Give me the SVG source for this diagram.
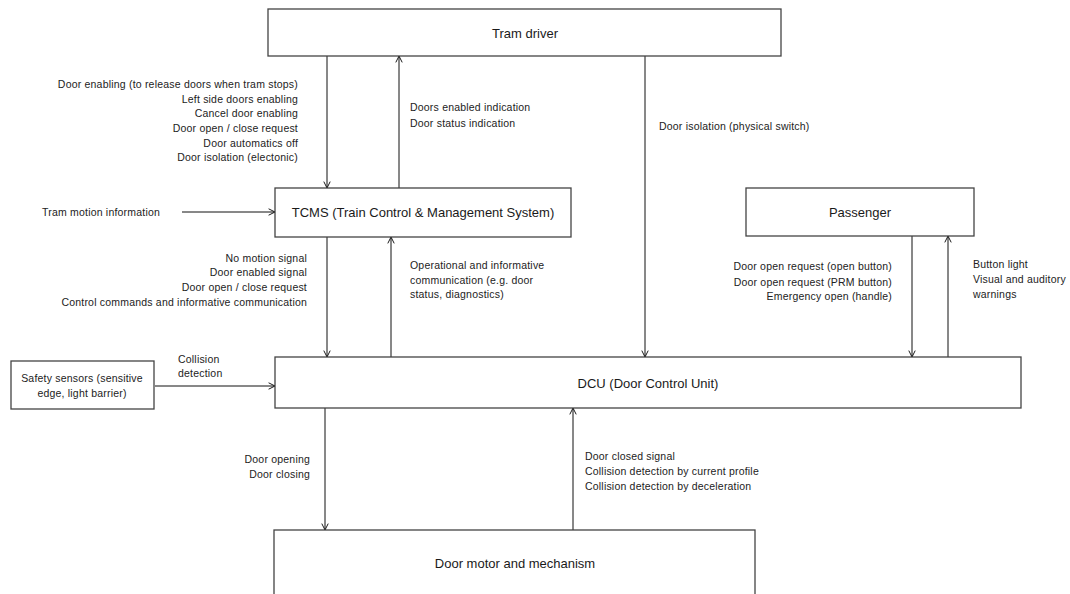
<svg xmlns="http://www.w3.org/2000/svg" width="1070" height="594" viewBox="0 0 1070 594">
<style>
.box{fill:#fff;stroke:#444;stroke-width:1.3}
.lbl{font-family:"Liberation Sans",Arial,sans-serif;font-size:13px;fill:#1a1a1a;text-anchor:middle;dominant-baseline:central}
.t{font-family:"Liberation Sans",Arial,sans-serif;font-size:10.5px;letter-spacing:0.2px;fill:#222;dominant-baseline:central}
.r{text-anchor:end}
.c{text-anchor:middle}
.ln{stroke:#111;stroke-width:1;fill:none;marker-end:url(#ah)}
</style>
<defs>
<marker id="ah" viewBox="0 0 10 10" refX="10" refY="5" markerWidth="8" markerHeight="8" markerUnits="userSpaceOnUse" orient="auto">
<polyline points="2,1 10,5 2,9" fill="none" stroke="#111" stroke-width="1.2"/>
</marker>
</defs>
<rect width="1070" height="594" fill="#fff"/>
<g id="connectors">
<line class="ln" x1="327" y1="56" x2="327" y2="188"/>
<line class="ln" x1="399" y1="188" x2="399" y2="56"/>
<line class="ln" x1="645" y1="56" x2="645" y2="357"/>
<line class="ln" x1="182" y1="212" x2="275" y2="212"/>
<line class="ln" x1="327" y1="237" x2="327" y2="357"/>
<line class="ln" x1="391" y1="357" x2="391" y2="237"/>
<line class="ln" x1="912" y1="236" x2="912" y2="357"/>
<line class="ln" x1="948" y1="357" x2="948" y2="236"/>
<line class="ln" x1="155" y1="386" x2="275" y2="386"/>
<line class="ln" x1="325" y1="408" x2="325" y2="530"/>
<line class="ln" x1="573" y1="530" x2="573" y2="408"/>
</g>
<g id="node-tram-driver">
<rect class="box" x="268" y="9" width="513" height="47"/>
<text class="lbl" x="525" y="33">Tram driver</text>
</g>
<g id="node-tcms">
<rect class="box" x="275" y="188" width="296" height="49"/>
<text class="lbl" x="423" y="212">TCMS (Train Control &amp; Management System)</text>
</g>
<g id="node-passenger">
<rect class="box" x="746" y="188" width="228" height="48"/>
<text class="lbl" x="860" y="212">Passenger</text>
</g>
<g id="node-dcu">
<rect class="box" x="275" y="357" width="746" height="51"/>
<text class="lbl" x="648" y="383">DCU (Door Control Unit)</text>
</g>
<g id="node-safety">
<rect class="box" x="11" y="361" width="143" height="48"/>
<text class="t c" x="82" y="378">Safety sensors (sensitive</text>
<text class="t c" x="82" y="393">edge, light barrier)</text>
</g>
<g id="node-motor">
<rect class="box" x="274" y="530" width="481" height="80"/>
<text class="lbl" x="515" y="563">Door motor and mechanism</text>
</g>
<g id="labels">
<text class="t r" x="298" y="84">Door enabling (to release doors when tram stops)</text>
<text class="t r" x="298" y="99">Left side doors enabling</text>
<text class="t r" x="298" y="113">Cancel door enabling</text>
<text class="t r" x="298" y="128">Door open / close request</text>
<text class="t r" x="298" y="143">Door automatics off</text>
<text class="t r" x="298" y="157">Door isolation (electonic)</text>
<text class="t" x="410" y="107">Doors enabled indication</text>
<text class="t" x="410" y="123">Door status indication</text>
<text class="t" x="659" y="126">Door isolation (physical switch)</text>
<text class="t" x="42" y="212">Tram motion information</text>
<text class="t r" x="307" y="258">No motion signal</text>
<text class="t r" x="307" y="272">Door enabled signal</text>
<text class="t r" x="307" y="287">Door open / close request</text>
<text class="t r" x="307" y="302">Control commands and informative communication</text>
<text class="t" x="410" y="265">Operational and informative</text>
<text class="t" x="410" y="280">communication (e.g. door</text>
<text class="t" x="410" y="294">status, diagnostics)</text>
<text class="t r" x="892" y="266">Door open request (open button)</text>
<text class="t r" x="892" y="282">Door open request (PRM button)</text>
<text class="t r" x="892" y="296">Emergency open (handle)</text>
<text class="t" x="973" y="264">Button light</text>
<text class="t" x="973" y="279">Visual and auditory</text>
<text class="t" x="973" y="294">warnings</text>
<text class="t" x="178" y="359">Collision</text>
<text class="t" x="178" y="373">detection</text>
<text class="t r" x="310" y="459">Door opening</text>
<text class="t r" x="310" y="474">Door closing</text>
<text class="t" x="585" y="456">Door closed signal</text>
<text class="t" x="585" y="471">Collision detection by current profile</text>
<text class="t" x="585" y="486">Collision detection by deceleration</text>
</g>
</svg>
